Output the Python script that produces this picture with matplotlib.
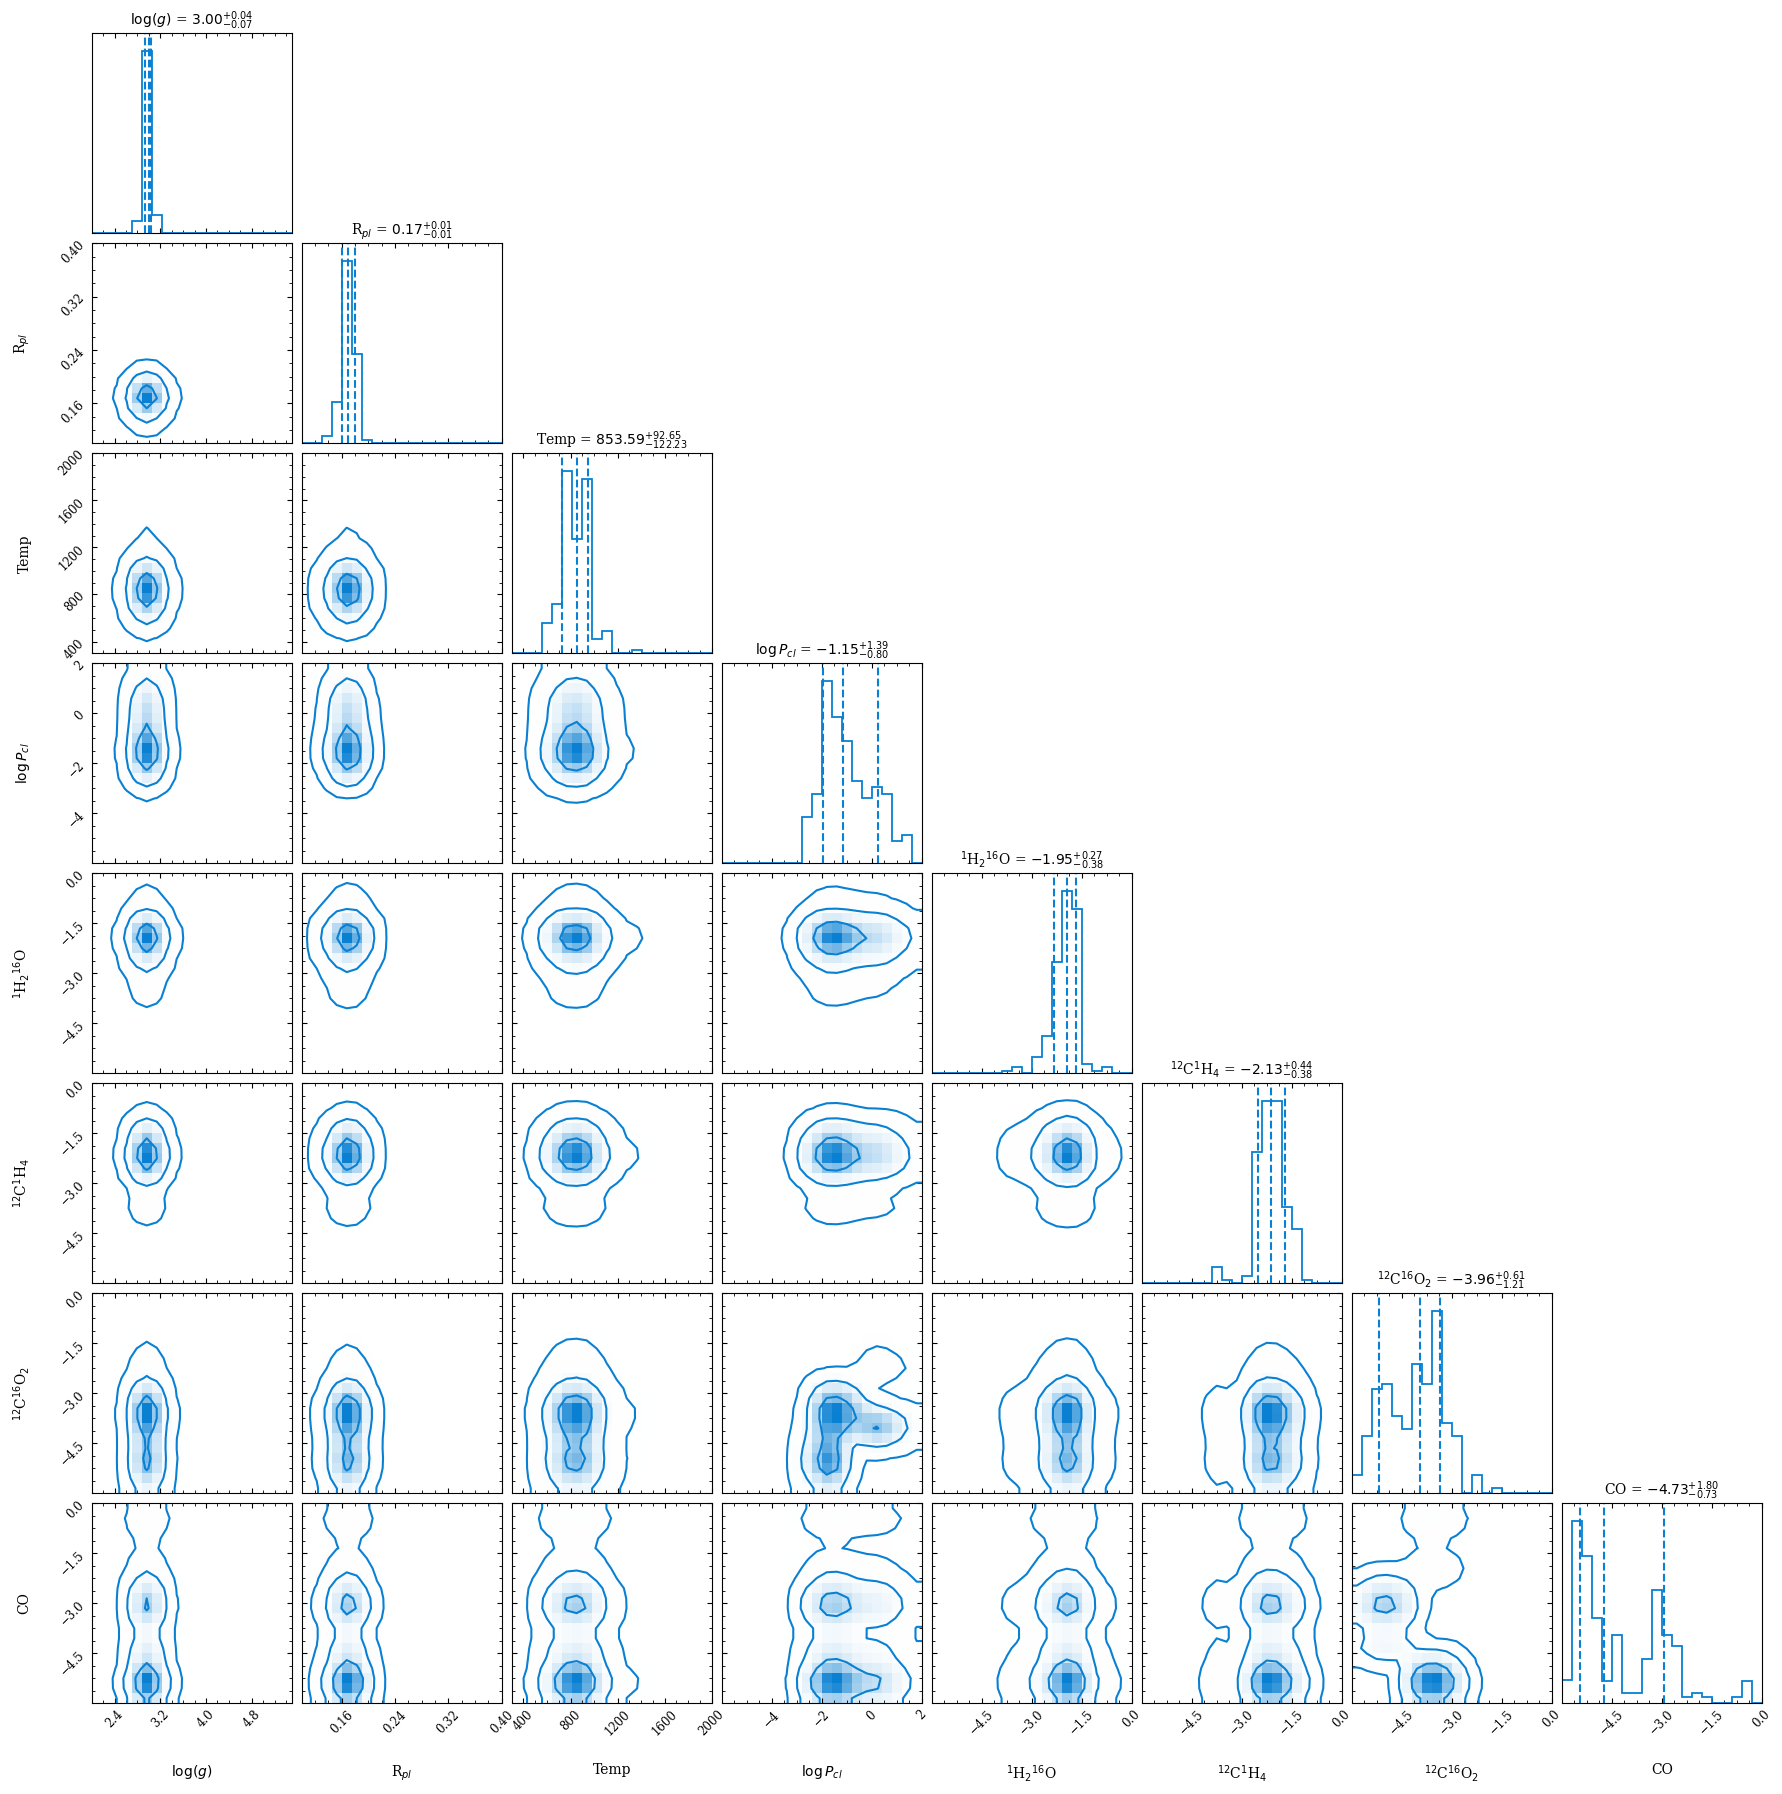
import numpy as np
import matplotlib
matplotlib.use("Agg")
import matplotlib.pyplot as plt
from matplotlib.colors import LinearSegmentedColormap
from matplotlib.ticker import FixedLocator, AutoMinorLocator, NullFormatter

plt.rcParams["font.family"] = "serif"
plt.rcParams["mathtext.fontset"] = "dejavusans"
plt.rcParams["font.size"] = 10
plt.rcParams["xtick.labelsize"] = 8.5
plt.rcParams["ytick.labelsize"] = 8.5

COLOR = "#0a80d2"

# --- parameters ---
labels = [r"$\log(g)$", r"R$_{pl}$", "Temp", r"$\log P_{cl}$",
          r"$^{1}$H$_{2}$$^{16}$O", r"$^{12}$C$^{1}$H$_{4}$",
          r"$^{12}$C$^{16}$O$_{2}$", "CO"]
ranges = [(2.0, 5.5), (0.10, 0.40), (300, 2000), (-6, 2),
          (-6, 0), (-6, 0), (-6, 0), (-6, 0)]
ticks = [[2.4, 3.2, 4.0, 4.8], [0.16, 0.24, 0.32, 0.40],
         [400, 800, 1200, 1600, 2000], [-4, -2, 0, 2],
         [-4.5, -3.0, -1.5, 0.0], [-4.5, -3.0, -1.5, 0.0],
         [-4.5, -3.0, -1.5, 0.0], [-4.5, -3.0, -1.5, 0.0]]
medians = [3.00, 0.17, 853.59, -1.15, -1.95, -2.13, -3.96, -4.73]
err_hi = [0.04, 0.01, 92.65, 1.39, 0.27, 0.44, 0.61, 1.80]
err_lo = [0.07, 0.01, 122.23, 0.80, 0.38, 0.38, 1.21, 0.73]

# 20-bin marginal histograms (relative heights)
hist_logg = [0, 0, 0, 0, 0.066, 1.0, 0.10, 0, 0, 0,
             0, 0, 0, 0, 0, 0, 0, 0, 0, 0]
hist_rpl = [0, 0, 0.039, 0.228, 1.0, 0.491, 0.018, 0, 0, 0,
            0, 0, 0, 0, 0, 0, 0, 0, 0, 0]
hist_temp = [0, 0, 0, 0.164, 0.271, 1.0, 0.628, 0.958, 0.079, 0.123,
             0, 0, 0.018, 0, 0, 0, 0, 0, 0, 0]
hist_logpcl = [0, 0, 0, 0, 0, 0, 0, 0, 0.257, 0.382,
               1.0, 0.806, 0.673, 0.450, 0.358, 0.417, 0.382, 0.121, 0.158, 0]
hist_h2o = [0, 0, 0, 0, 0, 0, 0, 0.015, 0.037, 0,
            0.088, 0.207, 0.614, 1.0, 0.901, 0.051, 0.015, 0.035, 0, 0]
hist_ch4 = [0, 0, 0, 0, 0, 0, 0, 0.09, 0.02, 0,
            0.041, 0.72, 1.0, 1.0, 0.418, 0.30, 0.02, 0, 0, 0]
hist_co2 = [0.103, 0.317, 0.573, 0.600, 0.424, 0.355, 0.713, 0.602, 1.0, 0.387,
            0.317, 0, 0.103, 0, 0.029, 0, 0, 0, 0, 0]
hist_co = [0.129, 1.0, 0.811, 0.469, 0.125, 0.373, 0.059, 0.059, 0.246, 0.623,
           0.373, 0.313, 0.033, 0.059, 0.033, 0, 0, 0.033, 0.125, 0]
hists = [hist_logg, hist_rpl, hist_temp, hist_logpcl,
         hist_h2o, hist_ch4, hist_co2, hist_co]

# panels whose 2D density splits into separate blobs:
# (x param, y param) -> list of ((x bins lo, hi), (y bins lo, hi)), inclusive
blobs_logpcl_co2 = [((9, 13), (6, 10)), ((14, 18), (5, 7)), ((8, 11), (0, 5)),
                    ((14, 19), (11, 15))]
blobs_co2_co = [((6, 10), (0, 4)), ((0, 5), (5, 12)), ((6, 14), (12, 19))]
joint_blobs = {(3, 6): blobs_logpcl_co2, (6, 7): blobs_co2_co}


def smooth(h, s=1.0):
    """gaussian smoothing with reflected edges (like scipy's gaussian_filter)"""
    k = np.arange(-4, 5)
    w = np.exp(-0.5 * (k / s) ** 2)
    w /= w.sum()
    return np.convolve(np.pad(np.asarray(h, float), 4, mode="symmetric"), w, mode="valid")


def joint_density(j, i):
    hx, hy = np.asarray(hists[j], float), np.asarray(hists[i], float)
    if (j, i) not in joint_blobs:
        return np.outer(smooth(hx), smooth(hy))
    H = np.zeros((20, 20))
    for (x0, x1), (y0, y1) in joint_blobs[(j, i)]:
        mx, my = np.zeros(20), np.zeros(20)
        mx[x0:x1 + 1] = hx[x0:x1 + 1]
        my[y0:y1 + 1] = hy[y0:y1 + 1]
        sx, sy = mx.sum(), my.sum()
        H += min(sx, sy) * np.outer(smooth(mx / sx), smooth(my / sy))
    return H


def density_levels(H, levels):
    Hf = np.sort(H.flatten())[::-1]
    sm = np.cumsum(Hf)
    sm /= sm[-1]
    V = np.empty(len(levels))
    for i, v0 in enumerate(levels):
        sel = Hf[sm <= v0]
        V[i] = sel[-1] if len(sel) else Hf[0]
    V.sort()
    return V


def style_axis(ax, i, j, K):
    ax.tick_params(which="both", direction="in", top=True, right=True)
    ax.xaxis.set_major_locator(FixedLocator(ticks[j]))
    ax.xaxis.set_minor_locator(AutoMinorLocator())
    if i == K - 1:
        for l in ax.get_xticklabels():
            l.set_rotation(45)
        ax.set_xlabel(labels[j])
        ax.xaxis.set_label_coords(0.5, -0.3)
    else:
        ax.xaxis.set_major_formatter(NullFormatter())


K = len(labels)
W, Hpx = 1783, 1794
fig = plt.figure(figsize=(W / 100, Hpx / 100), dpi=100)
dens_cmap = LinearSegmentedColormap.from_list("dens", [COLOR, (1, 1, 1, 0)])
lev = 1.0 - np.exp(-0.5 * np.array([1.0, 2.0, 3.0]) ** 2)

for i in range(K):
    for j in range(i + 1):
        left = (91.7 + 210 * j) / W
        bottom = 1 - (33.3 + 210 * i + 200) / Hpx
        ax = fig.add_axes([left, bottom, 200 / W, 200 / Hpx])
        edges_x = np.linspace(*ranges[j], 21)
        if i == j:
            h = np.asarray(hists[i])
            ax.hist(0.5 * (edges_x[1:] + edges_x[:-1]), bins=edges_x, weights=h,
                    histtype="step", color=COLOR, lw=1.3)
            q = [medians[i] - err_lo[i], medians[i], medians[i] + err_hi[i]]
            for qq in q:
                ax.axvline(qq, ls="dashed", color=COLOR, lw=1.5)
            ax.set_xlim(ranges[i])
            ax.set_ylim(0, 1.1 * h.max())
            ax.set_yticks([])
            fmt = "{:.2f}"
            ax.set_title("{} = ${}_{{-{}}}^{{+{}}}$".format(
                labels[i], fmt.format(medians[i]), fmt.format(err_lo[i]),
                fmt.format(err_hi[i])), fontsize=10)
            style_axis(ax, i, j, K)
            continue

        # 2D panel: x = param j, y = param i
        edges_y = np.linspace(*ranges[i], 21)
        H = joint_density(j, i)   # [x, y]
        V = density_levels(H, lev)
        ax.pcolormesh(edges_x, edges_y, H.max() - H.T, cmap=dens_cmap)

        X1 = 0.5 * (edges_x[1:] + edges_x[:-1])
        Y1 = 0.5 * (edges_y[1:] + edges_y[:-1])
        H2 = H.min() + np.zeros((H.shape[0] + 4, H.shape[1] + 4))
        H2[2:-2, 2:-2] = H
        H2[2:-2, 1] = H[:, 0]
        H2[2:-2, -2] = H[:, -1]
        H2[1, 2:-2] = H[0]
        H2[-2, 2:-2] = H[-1]
        H2[1, 1] = H[0, 0]
        H2[1, -2] = H[0, -1]
        H2[-2, 1] = H[-1, 0]
        H2[-2, -2] = H[-1, -1]
        dx, dy = np.diff(X1[:2])[0], np.diff(Y1[:2])[0]
        X2 = np.concatenate([X1[0] + np.array([-2, -1]) * dx, X1, X1[-1] + np.array([1, 2]) * dx])
        Y2 = np.concatenate([Y1[0] + np.array([-2, -1]) * dy, Y1, Y1[-1] + np.array([1, 2]) * dy])
        ax.contour(X2, Y2, H2.T, V, colors=COLOR, linewidths=1.5)

        ax.set_xlim(ranges[j])
        ax.set_ylim(ranges[i])
        style_axis(ax, i, j, K)
        ax.yaxis.set_major_locator(FixedLocator(ticks[i]))
        ax.yaxis.set_minor_locator(AutoMinorLocator())
        if j == 0:
            for l in ax.get_yticklabels():
                l.set_rotation(45)
            ax.set_ylabel(labels[i])
            ax.yaxis.set_label_coords(-0.3, 0.5)
        else:
            ax.yaxis.set_major_formatter(NullFormatter())

fig.savefig("out.png", dpi=100)
